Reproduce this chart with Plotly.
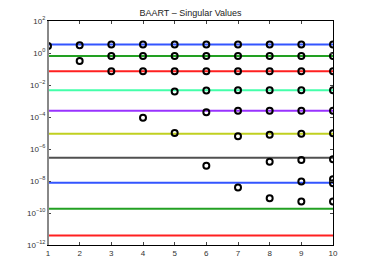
import plotly.graph_objects as go

# Singular values of the full problem (horizontal reference lines)
line_values = [3.38, 0.657, 0.0731, 0.00478, 2.45e-4, 9.0e-6, 2.88e-7, 7.9e-9, 1.82e-10, 3.94e-12]
line_colors = ["#3355ff", "#22a022", "#ff2020", "#44ffaa", "#9933ff",
               "#c0d020", "#505050", "#3355ff", "#22a022", "#ff2020"]

# Singular values computed for each problem size n (circles)
sizes = [1, 2, 3, 4, 5, 6, 7, 8, 9, 10]
sv_by_n = {
    1: [2.76],
    2: [3.05, 0.32],
    3: [3.38, 0.657, 0.0731],
    4: [3.38, 0.657, 0.0731, 8.97e-5],
    5: [3.38, 0.657, 0.0731, 0.00398, 9.97e-6],
    6: [3.38, 0.657, 0.0731, 0.00458, 1.95e-4, 9.1e-8],
    7: [3.38, 0.657, 0.0731, 0.00478, 2.45e-4, 6.2e-6, 3.9e-9],
    8: [3.38, 0.657, 0.0731, 0.00478, 2.45e-4, 7.8e-6, 1.62e-7, 8.5e-10],
    9: [3.38, 0.657, 0.0731, 0.00478, 2.45e-4, 9.0e-6, 2.07e-7, 9.2e-9, 5.2e-10],
    10: [3.38, 0.657, 0.0731, 0.00478, 2.45e-4, 9.55e-6, 2.29e-7, 1.29e-8, 7.3e-9, 5.2e-10],
}

x_ticks = [1, 2, 3, 4, 5, 6, 7, 8, 9, 10]
y_ticks = [1e-12, 1e-10, 1e-8, 1e-6, 1e-4, 1e-2, 1e0, 1e2]
y_ticktext = ["10<sup>−12</sup>", "10<sup>−10</sup>", "10<sup>−8</sup>", "10<sup>−6</sup>",
              "10<sup>−4</sup>", "10<sup>−2</sup>", "10<sup>0</sup>", "10<sup>2</sup>"]

fig = go.Figure()

for v, c in zip(line_values, line_colors):
    fig.add_trace(go.Scatter(x=[sizes[0], sizes[-1]], y=[v, v], mode="lines",
                             line=dict(color=c, width=2), showlegend=False,
                             hoverinfo="skip"))

for n in sizes:
    vals = sv_by_n[n]
    fig.add_trace(go.Scatter(x=[n] * len(vals), y=vals, mode="markers",
                             marker=dict(symbol="circle-open", size=6, color="black",
                                         line=dict(width=2, color="black")),
                             showlegend=False))

fig.add_shape(type="line", xref="paper", yref="paper", x0=0, x1=0, y0=0, y1=1,
              line=dict(color="#888888", width=2))

fig.update_layout(
    width=360, height=268,
    margin=dict(l=40, r=35, t=13, b=31, autoexpand=False),
    paper_bgcolor="white", plot_bgcolor="white",
    title=dict(text="BAART – Singular Values", x=0.507, xanchor="center",
               y=0.993, yanchor="top", pad=dict(t=0, b=0),
               font=dict(family="Liberation Sans, Arial", size=9, color="#222222")),
    font=dict(family="Liberation Sans, Arial", size=8, color="#333333"),
    xaxis=dict(range=[1, 10], tickvals=x_ticks, ticks="inside", ticklen=3,
               showline=True, linecolor="black", linewidth=1, mirror="allticks",
               showgrid=False, zeroline=False, tickfont=dict(size=8), automargin=False),
    yaxis=dict(type="log", range=[-12, 2], tickvals=y_ticks, ticktext=y_ticktext,
               ticks="inside", ticklen=3, showline=True, linecolor="black",
               linewidth=1, mirror="allticks", showgrid=False, zeroline=False,
               tickfont=dict(size=8), automargin=False),
)

fig.write_html("out.html")
